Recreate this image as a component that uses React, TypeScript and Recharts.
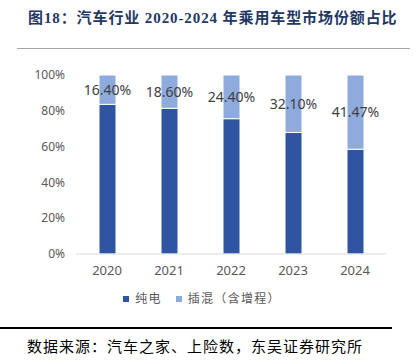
import { Bar, BarChart, LabelList, Legend, XAxis, YAxis } from "recharts"

const years = ["2020", "2021", "2022", "2023", "2024"]
const bev = [83.6, 81.4, 75.6, 67.9, 58.53]
const phev = [16.4, 18.6, 24.4, 32.1, 41.47]
const yTicks = [0, 20, 40, 60, 80, 100]

const data = years.map((year, i) => ({ year, bev: bev[i], phev: phev[i] }))

const font = "'Noto Sans', 'Noto Sans CJK SC', sans-serif"

const legendItems = [
  { name: "纯电", color: "#2f55a2" },
  { name: "插混（含增程）", color: "#8faadc" },
]

function ChartLegend() {
  return (
    <div style={{ display: "flex", justifyContent: "center", gap: 14, paddingTop: 6, paddingLeft: 18 }}>
      {legendItems.map((it) => (
        <div key={it.name} style={{ display: "flex", alignItems: "center" }}>
          <span style={{ width: 6, height: 6, background: it.color, marginRight: 6 }} />
          <span style={{ color: "#595959", fontSize: 12, letterSpacing: 1.3, lineHeight: "18px" }}>{it.name}</span>
        </div>
      ))}
    </div>
  )
}

export default function App() {
  return (
    <div
      style={{
        position: "absolute",
        top: 0,
        left: 0,
        width: 417,
        height: 364,
        background: "#fff",
        fontFamily: font,
      }}
    >
      <div
        style={{
          position: "absolute",
          left: 28,
          top: 6,
          fontSize: 15,
          fontWeight: 700,
          color: "#1f3864",
          letterSpacing: 0.9,
          fontFamily: "'Liberation Serif', 'Noto Sans CJK SC', serif",
          whiteSpace: "nowrap",
        }}
      >
        图18：汽车行业 2020-2024 年乘用车型市场份额占比
      </div>
      <div style={{ position: "absolute", left: 17, top: 48, width: 393, height: 1, background: "#a6a6a6" }} />

      <div style={{ position: "absolute", left: 0, top: 0 }}>
        <BarChart width={417} height={320} data={data} margin={{ top: 75, right: 31, left: 0, bottom: 12 }}>
          <XAxis
            dataKey="year"
            tickLine={false}
            axisLine={{ stroke: "#d9d9d9" }}
            tickMargin={6}
            height={30}
            tick={{ fill: "#595959", fontSize: 13, fontFamily: font }}
          />
          <YAxis
            width={76}
            domain={[0, 100]}
            ticks={yTicks}
            tickFormatter={(v) => `${v}%`}
            axisLine={false}
            tickLine={false}
            tickMargin={5}
            tick={{ fill: "#595959", fontSize: 12, fontFamily: font }}
          />
          <Legend verticalAlign="bottom" content={() => <ChartLegend />} />
          <Bar
            dataKey="bev"
            name="纯电"
            stackId="a"
            fill="#2f55a2"
            stroke="#fff"
            strokeWidth={1}
            barSize={17}
            isAnimationActive={false}
          />
          <Bar
            dataKey="phev"
            name="插混（含增程）"
            stackId="a"
            fill="#8faadc"
            stroke="#fff"
            strokeWidth={1}
            barSize={17}
            isAnimationActive={false}
          >
            <LabelList
              dataKey="phev"
              position="center"
              formatter={(v) => `${Number(v).toFixed(2)}%`}
              fill="#404040"
              fontSize={14}
              fontFamily={font}
            />
          </Bar>
        </BarChart>
      </div>

      <div style={{ position: "absolute", left: 0, top: 327, width: 392, height: 2, background: "#000" }} />
      <div
        style={{
          position: "absolute",
          left: 27,
          top: 335,
          fontSize: 15,
          letterSpacing: 1,
          color: "#000",
          fontFamily: "'Noto Sans CJK SC', sans-serif",
          whiteSpace: "nowrap",
        }}
      >
        数据来源：汽车之家、上险数，东吴证券研究所
      </div>
    </div>
  )
}
